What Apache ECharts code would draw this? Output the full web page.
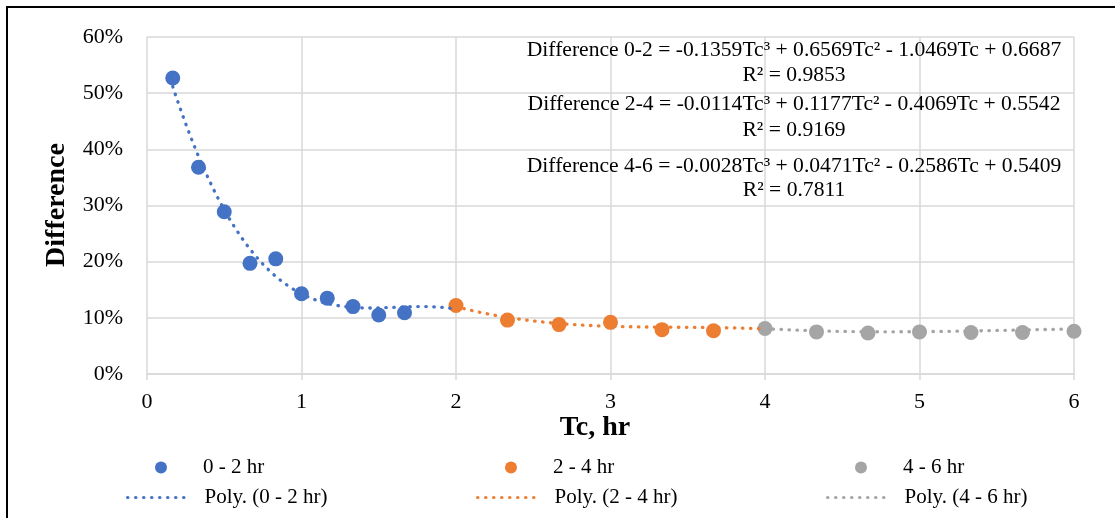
<!DOCTYPE html>
<html>
<head>
<meta charset="utf-8">
<script src="https://cdn.jsdelivr.net/npm/echarts@6/dist/echarts.min.js"></script>
<style>
  html, body { margin: 0; padding: 0; background: #fff; }
  #chart { width: 1115px; height: 518px; }
</style>
</head>
<body>
<div id="chart"></div>
<script>
// Time of concentration (hr) and difference (%) for each duration group
const tc02 = [0.1667, 0.3333, 0.5, 0.6667, 0.8333, 1.0, 1.1667, 1.3333, 1.5, 1.6667];
const diff02 = [52.7, 36.8, 28.9, 19.7, 20.5, 14.3, 13.5, 12.0, 10.5, 10.9];

const tc24 = [2.0, 2.3333, 2.6667, 3.0, 3.3333, 3.6667];
const diff24 = [12.2, 9.6, 8.8, 9.2, 7.9, 7.7];

const tc46 = [4.0, 4.3333, 4.6667, 5.0, 5.3333, 5.6667, 6.0];
const diff46 = [8.1, 7.5, 7.3, 7.5, 7.4, 7.4, 7.6];

// Cubic trendline coefficients [a3, a2, a1, a0] (difference as a fraction)
const poly02 = [-0.1359, 0.6569, -1.0469, 0.6687];
const poly24 = [-0.0114, 0.1177, -0.4069, 0.5542];
const poly46 = [-0.0028, 0.0471, -0.2586, 0.5409];
const r2 = ['0.9853', '0.9169', '0.7811'];
const groupNames = ['0 - 2 hr', '2 - 4 hr', '4 - 6 hr'];
const trendNames = ['Poly. (0 - 2 hr)', 'Poly. (2 - 4 hr)', 'Poly. (4 - 6 hr)'];

const colors = ['#4472C4', '#ED7D31', '#A5A5A5'];
const FONT = '"Liberation Serif", "Times New Roman", serif';

function pairs(xs, ys) {
  return xs.map((x, i) => [x, ys[i]]);
}

// Evaluate the stated cubic over a range, in percent
function cubicCurve(c, from, to) {
  const pts = [];
  const n = 120;
  for (let i = 0; i <= n; i++) {
    const x = from + (to - from) * i / n;
    const y = ((c[0] * x + c[1]) * x + c[2]) * x + c[3];
    pts.push([x, y * 100]);
  }
  return pts;
}

function fmt(v) {
  return (v < 0 ? '-' : '') + Math.abs(v).toFixed(4);
}
function eqText(label, c) {
  const sgn = v => (v < 0 ? ' - ' : ' + ') + Math.abs(v).toFixed(4);
  return 'Difference ' + label + ' = ' + fmt(c[0]) + 'Tc\u00B3' + sgn(c[1]) + 'Tc\u00B2' +
    sgn(c[2]) + 'Tc' + sgn(c[3]);
}

const scatterSets = [pairs(tc02, diff02), pairs(tc24, diff24), pairs(tc46, diff46)];
const trendSets = [
  cubicCurve(poly02, tc02[0], 2),
  cubicCurve(poly24, 2, 4),
  cubicCurve(poly46, 4, 6)
];

const series = [];
scatterSets.forEach((d, i) => {
  series.push({
    name: groupNames[i],
    type: 'scatter',
    data: d,
    symbol: 'circle',
    symbolSize: 15,
    itemStyle: { color: colors[i], opacity: 1 },
    z: 2
  });
});
trendSets.forEach((d, i) => {
  series.push({
    name: trendNames[i],
    type: 'line',
    data: d,
    showSymbol: false,
    symbol: 'none',
    smooth: false,
    silent: true,
    lineStyle: { color: colors[i], width: 3.3, type: [0.5, 7.5], cap: 'round' },
    itemStyle: { color: colors[i] },
    z: 3
  });
});

const colLeft = [126, 476, 826];
const legends = [];
groupNames.forEach((n, i) => {
  legends.push({
    data: [n],
    left: colLeft[i] + 29,
    top: 457,
    padding: 0,
    itemWidth: 12,
    itemHeight: 12,
    icon: 'circle',
    selectedMode: false,
    textStyle: { fontFamily: FONT, fontSize: 21, color: '#000', padding: [0, 0, 0, 31] }
  });
});
trendNames.forEach((n, i) => {
  legends.push({
    data: [n],
    left: colLeft[i],
    top: 487,
    padding: 0,
    itemWidth: 63,
    itemHeight: 12,
    selectedMode: false,
    itemStyle: { color: 'rgba(0,0,0,0)', borderWidth: 0, opacity: 0 },
    lineStyle: { width: 3, type: [0.5, 7.5], cap: 'round' },
    textStyle: { fontFamily: FONT, fontSize: 21, color: '#000', padding: [0, 0, 0, 9] }
  });
});

const eqLines = [
  { t: eqText('0-2', poly02), y: 50 },
  { t: 'R\u00B2 = ' + r2[0], y: 75 },
  { t: eqText('2-4', poly24), y: 104 },
  { t: 'R\u00B2 = ' + r2[1], y: 130 },
  { t: eqText('4-6', poly46), y: 166 },
  { t: 'R\u00B2 = ' + r2[2], y: 190 }
];

const graphics = [
  {
    type: 'rect',
    shape: { x: 7, y: 7, width: 1200, height: 600 },
    style: { fill: 'none', stroke: '#000', lineWidth: 2 },
    silent: true
  },
  {
    type: 'text',
    x: 595, y: 428,
    style: { text: 'Tc, hr', font: 'bold 28px ' + FONT, fill: '#000', align: 'center', verticalAlign: 'middle' }
  },
  {
    type: 'text',
    x: 57, y: 205,
    rotation: Math.PI / 2,
    style: { text: 'Difference', font: 'bold 28px ' + FONT, fill: '#000', align: 'center', verticalAlign: 'middle' }
  }
];
eqLines.forEach(l => {
  graphics.push({
    type: 'text',
    x: 794, y: l.y,
    z: 10,
    style: { text: l.t, font: '21.6px ' + FONT, fill: '#000', align: 'center', verticalAlign: 'middle' }
  });
});

const chart = echarts.init(document.getElementById('chart'), null, { renderer: 'canvas' });
chart.setOption({
  animation: false,
  backgroundColor: '#fff',
  grid: { left: 147, right: 41, top: 37, bottom: 144, containLabel: false },
  xAxis: {
    type: 'value',
    min: 0, max: 6, interval: 1,
    axisLine: { show: true, lineStyle: { color: '#d9d9d9', width: 1.5 } },
    axisTick: { show: true, length: 6, lineStyle: { color: '#d9d9d9', width: 1.5 } },
    splitLine: { show: true, lineStyle: { color: '#d9d9d9', width: 1.5 } },
    axisLabel: { fontFamily: FONT, fontSize: 22, color: '#000', margin: 17 }
  },
  yAxis: {
    type: 'value',
    min: 0, max: 60, interval: 10,
    axisLine: { show: false },
    axisTick: { show: false },
    splitLine: { show: true, lineStyle: { color: '#d9d9d9', width: 1.5 } },
    axisLabel: { fontFamily: FONT, fontSize: 22, color: '#000', margin: 24, formatter: '{value}%' }
  },
  legend: legends,
  series: series,
  graphic: graphics
});
</script>
</body>
</html>
